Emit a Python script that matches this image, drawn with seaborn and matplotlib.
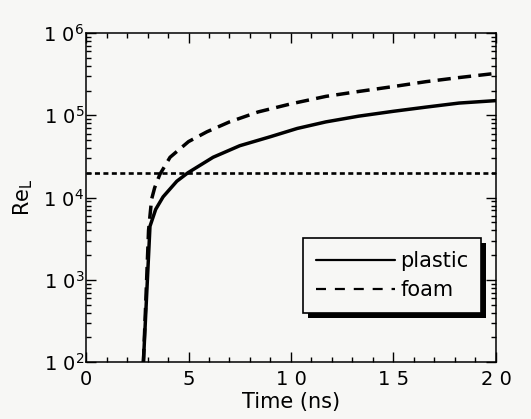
import numpy as np
import pandas as pd
import matplotlib
matplotlib.use("Agg")
import matplotlib.pyplot as plt
import seaborn as sns
from matplotlib.lines import Line2D
from matplotlib.patches import Rectangle
from matplotlib.ticker import FixedLocator, MultipleLocator, LogLocator, NullFormatter, FixedFormatter

# ---- data ----
plastic_t = [2.8, 3.12, 3.4, 3.76, 4.43, 4.97, 6.2, 7.5, 9.0, 10.3, 11.7, 13.3, 15.0, 16.6, 18.2, 20.0]
plastic_re = [100, 4470, 7200, 10200, 15800, 20000, 30900, 42700, 55000, 69200, 83200, 97700,
              112000, 126000, 141000, 151000]

foam_t = [2.8, 3.05, 3.2, 3.35, 3.6, 4.1, 5.0, 5.9, 7.0, 8.4, 10.0, 11.7, 13.3, 15.0, 16.6, 18.2, 20.0]
foam_re = [100, 3980, 9550, 13200, 19100, 30900, 47900, 63100, 83200, 110000, 138000, 170000,
           195000, 224000, 257000, 288000, 324000]

threshold_t = [0, 20]
threshold_re = [20000, 20000]

series_names = ["plastic", "foam"]
x_ticks = [0, 5, 10, 15, 20]
x_ticklabels = ["0", "5", "1 0", "1 5", "2 0"]
y_ticks = [1e2, 1e3, 1e4, 1e5, 1e6]
y_ticklabels = [r"$\mathregular{1\ 0^{2}}$", r"$\mathregular{1\ 0^{3}}$", r"$\mathregular{1\ 0^{4}}$",
                r"$\mathregular{1\ 0^{5}}$", r"$\mathregular{1\ 0^{6}}$"]

df = pd.concat([
    pd.DataFrame({"time": plastic_t, "re": plastic_re, "material": series_names[0]}),
    pd.DataFrame({"time": foam_t, "re": foam_re, "material": series_names[1]}),
], ignore_index=True)
thr = pd.DataFrame({"time": threshold_t, "re": threshold_re})

# ---- style ----
bg = "#f7f7f5"
sns.set_style("ticks")
plt.rcParams["font.family"] = ["DejaVu Sans"]
plt.rcParams["mathtext.fontset"] = "dejavusans"
plt.rcParams["text.color"] = "black"
plt.rcParams["axes.labelcolor"] = "black"
plt.rcParams["xtick.color"] = "black"
plt.rcParams["ytick.color"] = "black"

fig = plt.figure(figsize=(5.31, 4.19), dpi=100, facecolor=bg)
ax = fig.add_axes([0.162, 0.136, 0.772, 0.785])
ax.set_facecolor(bg)
ax.set_yscale("log")

sns.lineplot(data=df, x="time", y="re", style="material", dashes={"plastic": "", "foam": (3.8, 2.1)},
             color="black", linewidth=2.5, estimator=None, sort=False, legend=False, ax=ax)
sns.lineplot(data=thr, x="time", y="re", color="black", linewidth=1.9,
             linestyle=(0, (1.9, 1.3)), estimator=None, legend=False, ax=ax)

ax.set_xlim(0, 20)
ax.set_ylim(1e2, 1e6)

ax.xaxis.set_major_locator(FixedLocator(x_ticks))
ax.xaxis.set_major_formatter(FixedFormatter(x_ticklabels))
ax.xaxis.set_minor_locator(MultipleLocator(1))
ax.yaxis.set_major_locator(FixedLocator(y_ticks))
ax.yaxis.set_major_formatter(FixedFormatter(y_ticklabels))
ax.yaxis.set_minor_locator(LogLocator(base=10, subs=np.arange(2, 10)))
ax.yaxis.set_minor_formatter(NullFormatter())

for s in ax.spines.values():
    s.set_linewidth(1.1)
    s.set_color("black")
    s.set_visible(True)

ax.tick_params(which="both", direction="in", top=True, right=True, color="black", width=1.0)
ax.tick_params(which="major", length=7)
ax.tick_params(which="minor", length=3.5)
ax.tick_params(axis="x", which="major", labelsize=14, pad=6, labelcolor="black")
ax.tick_params(axis="y", which="major", labelsize=14, pad=1, labelcolor="black")

ax.set_xlabel("Time (ns)", fontsize=15, labelpad=2, color="black")
ax.set_ylabel(r"Re$_\mathregular{L}$", fontsize=15, labelpad=6, color="black")

handles = [Line2D([], [], color="black", linewidth=1.6, linestyle="-"),
           Line2D([], [], color="black", linewidth=1.6, linestyle=(0, (4.5, 4.0)))]
leg = ax.legend(handles, series_names, loc="upper left", bbox_to_anchor=(0.529, 0.377),
                borderaxespad=0, fontsize=15, handlelength=3.8, handletextpad=0.25,
                borderpad=0.62, labelspacing=0.45, frameon=True, fancybox=False,
                framealpha=1, facecolor=bg, edgecolor="black")
leg.get_frame().set_linewidth(1.2)
leg.set_zorder(6)
for t in leg.get_texts():
    t.set_color("black")

fig.canvas.draw()
bb = leg.get_window_extent()
shadow = Rectangle((bb.x0 + 5, bb.y0 - 5), bb.width, bb.height, transform=None,
                   facecolor="black", edgecolor="none", zorder=5.5, clip_on=False)
ax.add_artist(shadow)

fig.savefig("out.png", dpi=100, facecolor=bg)
